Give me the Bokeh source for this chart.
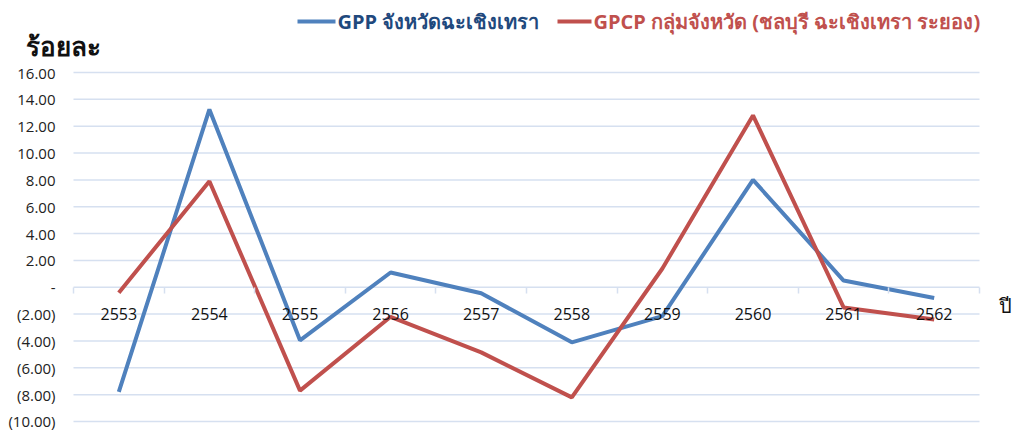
from bokeh.plotting import figure
from bokeh.models import Range1d, FixedTicker, CustomJSTickFormatter
from bokeh.core.properties import value
from bokeh.embed import file_html
from bokeh.resources import INLINE

years = ["2553", "2554", "2555", "2556", "2557", "2558", "2559", "2560", "2561", "2562"]
gpp = [-7.8, 13.25, -3.95, 1.1, -0.45, -4.1, -2.15, 8.0, 0.5, -0.8]
gpcp = [-0.4, 7.9, -7.7, -2.2, -4.85, -8.2, 1.4, 12.8, -1.5, -2.4]
y_ticks = [-10, -8, -6, -4, -2, 0, 2, 4, 6, 8, 10, 12, 14, 16]
name_gpp = "GPP จังหวัดฉะเชิงเทรา"
name_gpcp = "GPCP กลุ่มจังหวัด (ชลบุรี ฉะเชิงเทรา ระยอง)"
y_title = "ร้อยละ"
x_title = "ปี"

FONT = "Open Sans"
BLUE = "#4F81BD"
RED = "#C0504D"
GRID = "#D6E0F0"
W, H = 1019, 430

n = len(years)
xs = [i + 0.5 for i in range(n)]

# plot area of the categories on the page (pixels)
LEFT, RIGHT, TOP, BOTTOM = 73, 979, 72, 421
ymin, ymax = y_ticks[0], y_ticks[-1]
kx = (RIGHT - LEFT) / n
ky = (BOTTOM - TOP) / (ymax - ymin)


def px2x(px):
    return (px - LEFT) / kx


def px2y(py):
    return ymax - (py - TOP) / ky


p = figure(width=W, height=H, output_backend="svg", toolbar_location=None,
           x_range=Range1d(px2x(0), px2x(W)), y_range=Range1d(px2y(H), px2y(0)),
           min_border=0, min_border_left=0, min_border_right=0,
           min_border_top=0, min_border_bottom=0)
p.outline_line_color = None
p.grid.visible = False

# y axis drawn at the left edge of the category area
p.yaxis.fixed_location = 0
p.yaxis.ticker = FixedTicker(ticks=y_ticks)
p.yaxis.formatter = CustomJSTickFormatter(code="""
if (Math.abs(tick) < 1e-9) return '-';
const s = Math.abs(tick).toFixed(2);
return tick < 0 ? '(' + s + ')' : s;
""")
p.yaxis.axis_line_color = None
p.yaxis.major_tick_line_color = None
p.yaxis.minor_tick_line_color = None
p.yaxis.major_label_text_font = FONT
p.yaxis.major_label_text_font_size = "15px"
p.yaxis.major_label_text_color = "#222222"
p.yaxis.major_label_standoff = 12

# gridlines limited to the category area
p.segment(x0=[0] * len(y_ticks), x1=[n] * len(y_ticks), y0=y_ticks, y1=y_ticks,
          line_color=GRID, line_width=1.5)

# x axis at zero
p.xaxis.fixed_location = 0
p.xaxis.ticker = FixedTicker(ticks=xs, minor_ticks=list(range(n + 1)))
p.xaxis.formatter = CustomJSTickFormatter(args=dict(years=years),
                                          code="return years[Math.round(tick - 0.5)];")
p.xaxis.axis_line_color = None
p.xaxis.major_tick_line_color = None
p.xaxis.minor_tick_line_color = GRID
p.xaxis.minor_tick_line_width = 1.5
p.xaxis.minor_tick_out = 6
p.xaxis.minor_tick_in = 0
p.xaxis.major_label_text_font = FONT
p.xaxis.major_label_text_font_size = "16px"
p.xaxis.major_label_text_color = "#111111"
p.xaxis.major_label_standoff = 15

p.line(xs, gpp, line_color=BLUE, line_width=4)
p.line(xs, gpcp, line_color=RED, line_width=4)

# header: title and legend
p.text(x=[px2x(25)], y=[px2y(45)], text=[y_title], text_font=value(FONT),
       text_font_style="bold", text_font_size="26px", text_color="#111111",
       text_baseline="middle")
p.segment(x0=[px2x(297)], y0=[px2y(21)], x1=[px2x(335)], y1=[px2y(21)],
          line_color=BLUE, line_width=4)
p.text(x=[px2x(337)], y=[px2y(21)], text=[name_gpp], text_font=value(FONT),
       text_font_style="bold", text_font_size="20px", text_color="#1F497D",
       text_baseline="middle")
p.segment(x0=[px2x(557)], y0=[px2y(21)], x1=[px2x(591)], y1=[px2y(21)],
          line_color=RED, line_width=4)
p.text(x=[px2x(593)], y=[px2y(21)], text=[name_gpcp], text_font=value(FONT),
       text_font_style="bold", text_font_size="20px", text_color=RED,
       text_baseline="middle")

p.text(x=[px2x(998)], y=[px2y(305)], text=[x_title], text_font=value(FONT),
       text_font_size="20px", text_color="#111111", text_baseline="middle")

open("out.html", "w").write(file_html(p, INLINE))
